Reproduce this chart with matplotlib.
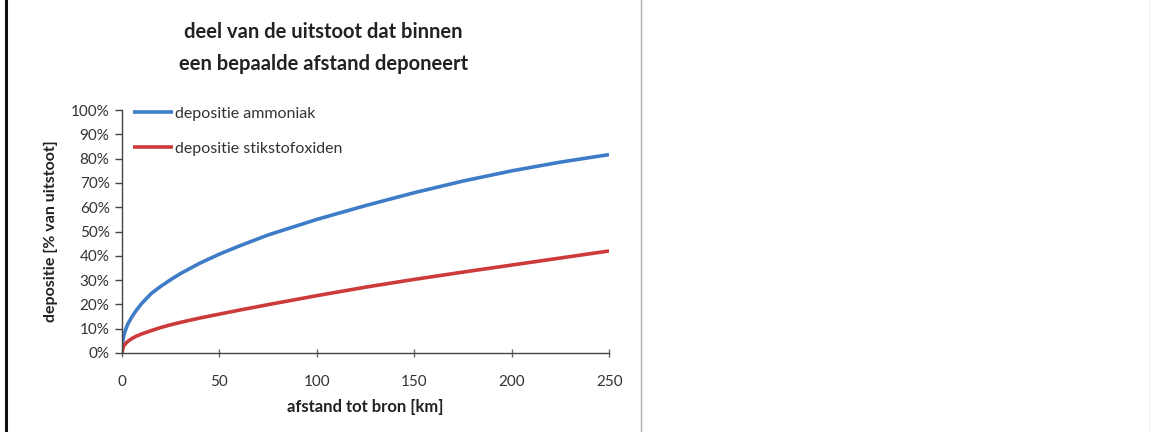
import numpy as np
import matplotlib.pyplot as plt
from matplotlib.lines import Line2D
from matplotlib.ticker import PercentFormatter

plt.rcParams['font.family'] = ['Lato', 'DejaVu Sans']

# --- gegevens ---
afstand = [0, 0.5, 1, 2, 3, 5, 7, 10, 15, 20, 25, 30, 40, 50, 60, 75, 100, 125, 150, 175, 200, 225, 250]
ammoniak = [0, 5.5, 7.5, 10, 12, 14.8, 17.2, 20.3, 24.5, 27.5, 30.2, 32.7, 37, 40.7, 44, 48.6, 55, 60.7, 66, 70.8, 75, 78.6, 81.7]
stikstofoxiden = [0, 2.2, 3, 4, 4.8, 5.9, 6.8, 7.8, 9.2, 10.5, 11.6, 12.6, 14.4, 16, 17.6, 19.9, 23.6, 27.1, 30.3, 33.3, 36.2, 39.1, 42]

x_ticks = [0, 50, 100, 150, 200, 250]
y_ticks = [0, 10, 20, 30, 40, 50, 60, 70, 80, 90, 100]

fig = plt.figure(figsize=(11.68, 4.32), dpi=100)
ax = fig.add_axes([0.1045, 0.183, 0.417, 0.562])

ax.plot(afstand, ammoniak, color='#3f7cc8', lw=2.6, label='depositie ammoniak', solid_capstyle='butt')
ax.plot(afstand, stikstofoxiden, color='#cc3a3a', lw=2.6, label='depositie stikstofoxiden', solid_capstyle='butt')

ax.set_xlim(0, 250)
ax.set_ylim(0, 100)
ax.set_xticks(x_ticks)
ax.set_yticks(y_ticks)
ax.yaxis.set_major_formatter(PercentFormatter(decimals=0))

for s in ['top', 'right']:
    ax.spines[s].set_visible(False)
for s in ['left', 'bottom']:
    ax.spines[s].set_color('#444444')
    ax.spines[s].set_linewidth(1.0)

ax.tick_params(axis='y', direction='out', length=5, width=1, colors='#444444', labelcolor='#333333', labelsize=11, pad=4)
ax.tick_params(axis='x', direction='inout', length=6, width=1, colors='#666666', labelcolor='#333333', labelsize=11, pad=13)

ax.set_xlabel('afstand tot bron [km]', fontsize=12, fontweight='bold', color='#222222', labelpad=7)
ax.set_ylabel('depositie [% van uitstoot]', fontsize=11.5, fontweight='bold', color='#222222', labelpad=9)

leg = ax.legend(loc='upper left', bbox_to_anchor=(0.0, 1.06), frameon=False, fontsize=11.5,
                handlelength=2.5, handletextpad=0.1, labelspacing=1.3, borderaxespad=0.3)
for t in leg.get_texts():
    t.set_color('#333333')

fig.text(0.277, 0.925, 'deel van de uitstoot dat binnen', ha='center', va='center',
         fontsize=14.5, fontweight='bold', color='#222222')
fig.text(0.277, 0.853, 'een bepaalde afstand deponeert', ha='center', va='center',
         fontsize=14.5, fontweight='bold', color='#222222')

# kaderlijnen van het document
fig.add_artist(Line2D([0.0055, 0.0055], [0, 1], transform=fig.transFigure, color='#111111', lw=2.2))
fig.add_artist(Line2D([0.549, 0.549], [0, 1], transform=fig.transFigure, color='#aaaaaa', lw=1.0))
fig.add_artist(Line2D([0.984, 0.984], [0, 1], transform=fig.transFigure, color='#f0f0f0', lw=1.0))

fig.savefig('out.png', dpi=100)
